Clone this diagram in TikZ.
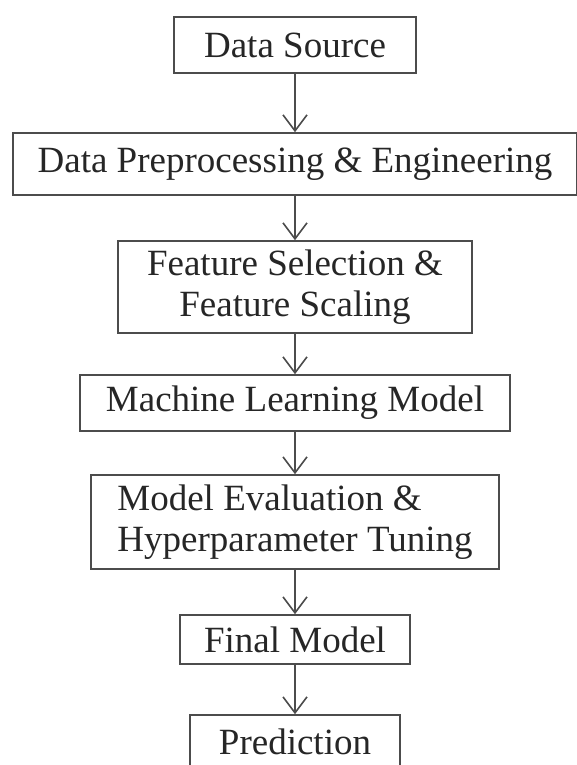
\documentclass[tikz,border=0pt]{standalone}
\usepackage{fontspec}
\setmainfont{Liberation Serif}
\usetikzlibrary{arrows.meta}

\tikzset{
  stage/.style={draw=black!70, line width=1.6pt, inner sep=0pt,
    text=black!85, font=\fontsize{37}{41}\selectfont},
  flow/.style={draw=black!70, line width=1.6pt,
    -{Straight Barb[length=16pt,width=24pt,line width=1.6pt]}}
}

\begin{document}
\begin{tikzpicture}[x=1pt,y=-1pt]
			\useasboundingbox (0,0) rectangle (576,765);
			\node[stage, minimum width=242pt, minimum height=56pt] (source) at (295,45) {Data Source};
			\node[stage, minimum width=564pt, minimum height=62pt] (prep) at (295,164) {Data Preprocessing \& Engineering};
			\node[stage, minimum width=354pt, minimum height=92pt, align=center] (features) at (295,287) {Feature Selection \&\\Feature Scaling};
			\node[stage, minimum width=430pt, minimum height=56pt] (model) at (295,403) {Machine Learning Model};
			\node[stage, minimum width=408pt, minimum height=94pt, align=left] (tuning) at (295,522) {Model Evaluation \&\\Hyperparameter Tuning};
			\node[stage, minimum width=230pt, minimum height=49pt] (final) at (295,639.5) {Final Model};
			\node[stage, minimum width=210pt, minimum height=54pt] (predict) at (295,742) {Prediction};
			\draw[flow] (source) to (prep);
			\draw[flow] (prep) to (features);
			\draw[flow] (features) to (model);
			\draw[flow] (model) to (tuning);
			\draw[flow] (tuning) to (final);
			\draw[flow] (final) to (predict);
\end{tikzpicture}
\end{document}
